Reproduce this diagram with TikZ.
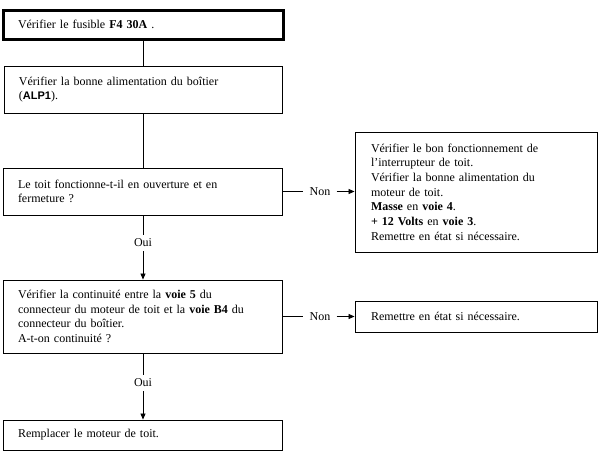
\documentclass[tikz,border=0pt]{standalone}
\usepackage{fontspec}
\setmainfont{Liberation Serif}
\newfontfamily\arialfont{Liberation Sans}
\usetikzlibrary{arrows.meta}
\tikzset{
  box/.style={draw, rectangle, line width=0.9pt, inner xsep=15pt, inner ysep=0pt, align=left,
    font=\fontsize{12}{14.7}\selectfont},
  lbl/.style={inner xsep=6pt, inner ysep=4pt, font=\fontsize{12}{12}\selectfont},
  arr/.style={-{Triangle[length=6pt,width=5pt]}, line width=0.8pt},
  ln/.style={line width=0.8pt}
}
\begin{document}
\begin{tikzpicture}[x=1pt,y=-1pt]
\useasboundingbox (0,0) rectangle (605,469);
\node[box, line width=3pt, text width=250pt, minimum height=29pt] (b1) at (143,24.5) {Vérifier le fusible \textbf{F4 30A} .};
\node[box, text width=248pt, minimum height=47pt] (b2) at (143,89.5) {Vérifier la bonne alimentation du boîtier\\({\arialfont\bfseries\fontsize{11}{14.7}\selectfont ALP1}).};
\node[box, text width=249pt, minimum height=47pt] (b3) at (142.5,191.5) {Le toit fonctionne-t-il en ouverture et en\\fermeture ?};
\node[box, text width=249pt, minimum height=73pt] (b4) at (142.5,316.5) {Vérifier la continuité entre la \textbf{voie 5} du\\connecteur du moteur de toit et la \textbf{voie B4} du\\connecteur du boîtier.\\A-t-on continuité ?};
\node[box, text width=249pt, minimum height=30pt] (b5) at (142.5,435) {Remplacer le moteur de toit.};
\node[box, inner xsep=16pt, text width=210pt, minimum height=120pt] (r1) at (476,192) {Vérifier le bon fonctionnement de\\l'interrupteur de toit.\\Vérifier la bonne alimentation du\\moteur de toit.\\\textbf{Masse} en \textbf{voie 4}.\\\textbf{+ 12 Volts} en \textbf{voie 3}.\\Remettre en état si nécessaire.};
\node[box, inner xsep=16pt, text width=210pt, minimum height=31pt] (r2) at (476,316.5) {Remettre en état si nécessaire.};
\node[lbl] (non1) at (320,191.5) {Non};
\node[lbl] (non2) at (320,316.5) {Non};
\node[lbl] (oui1) at (143,243) {Oui};
\node[lbl] (oui2) at (143,383) {Oui};
\draw[ln] (b1.south -| 143,0) -- (b2.north -| 143,0);
\draw[ln] (b2.south -| 143,0) -- (b3.north -| 143,0);
\draw[ln] (b3.south -| oui1) -- (oui1.north);
\draw[arr] (oui1.south) -- (b4.north -| oui1);
\draw[ln] (b4.south -| oui2) -- (oui2.north);
\draw[arr] (oui2.south) -- (b5.north -| oui2);
\draw[ln] (b3.east) -- (non1.west);
\draw[arr] (non1.east) -- (r1.west |- non1);
\draw[ln] (b4.east) -- (non2.west);
\draw[arr] (non2.east) -- (r2.west |- non2);
\end{tikzpicture}
\end{document}
